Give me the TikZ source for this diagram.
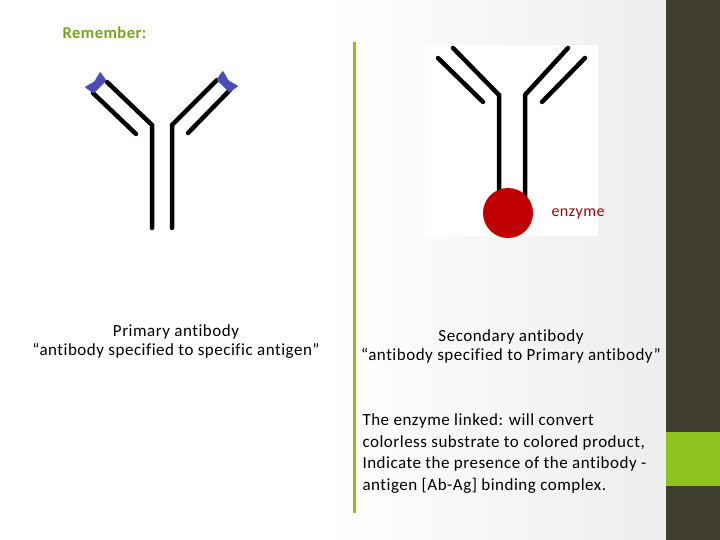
\documentclass[tikz,border=0pt]{standalone}
\usepackage{fontspec}
\setmainfont{Carlito}[Ligatures={NoCommon,NoDiscretionary,NoRare},LetterSpace=3]
\begin{document}
\begin{tikzpicture}[x=1pt,y=-1pt,
  arm/.style={line width=4.5pt,line cap=round},
  txt/.style={font=\fontsize{17}{19}\selectfont,align=center},
  antigen/.style={fill=blue!60!black!70!white,draw=none,rounded corners=1pt}]
\definecolor{gr}{HTML}{8DC21F}
\definecolor{dk}{HTML}{3F3D30}
\definecolor{enz}{HTML}{C00000}
\useasboundingbox (0,0) rectangle (720,540);
\fill[white] (0,0) rectangle (330,540);
\shade[left color=white,right color=gray!14] (329,0) rectangle (666,540);
\fill[dk] (666,0) rectangle (720,540);
\fill[gr] (666,432) rectangle (720,486);
\draw[gr,line width=3pt] (354,42) -- (354,513);
\node[anchor=west,text=gr!85!black,font=\bfseries\fontsize{16.5}{18}\selectfont] (rem) at (59,33) {Remember:};
% primary antibody
\draw[arm] (107,82) -- (152,125) -- (152,228);
\draw[arm] (93,93) -- (136,134);
\draw[arm] (217,80) -- (172,125) -- (172,228);
\draw[arm] (230,90) -- (188,133);
\fill[antigen] (93.7,93.5) -- (106.5,80.7) -- (100.1,71.5) -- (94.5,81.5) -- (84.5,87.1) -- cycle;
\fill[antigen] (216.5,79.7) -- (229.3,92.5) -- (238.5,86.1) -- (228.5,80.5) -- (222.9,70.5) -- cycle;
% secondary antibody
\fill[white] (425,45) rectangle (598,236);
\draw[arm] (453,48) -- (499,95) -- (499,200);
\draw[arm] (438,58) -- (483,102);
\draw[arm] (568,48) -- (525,95) -- (525,200);
\draw[arm] (585,58) -- (542,102);
\node[circle,fill=enz,minimum size=50pt,inner sep=0pt] (enzc) at (508,213) {};
\node[text=enz!85!black,anchor=west,font=\fontsize{16}{18}\selectfont] (enzl) at (548,214) {enzyme};
\node[txt] (p) at (176,342) {Primary antibody\\``antibody specified to specific antigen''};
\node[txt] (s) at (511,346) {Secondary antibody\\``antibody specified to Primary antibody''};
\node[txt,align=left,anchor=north west,font=\fontsize{17}{21.7}\selectfont] (e) at (359,410) {The enzyme linked: will convert\\colorless substrate to colored product,\\Indicate the presence of the antibody -\\antigen [Ab-Ag] binding complex.};
\end{tikzpicture}
\end{document}
